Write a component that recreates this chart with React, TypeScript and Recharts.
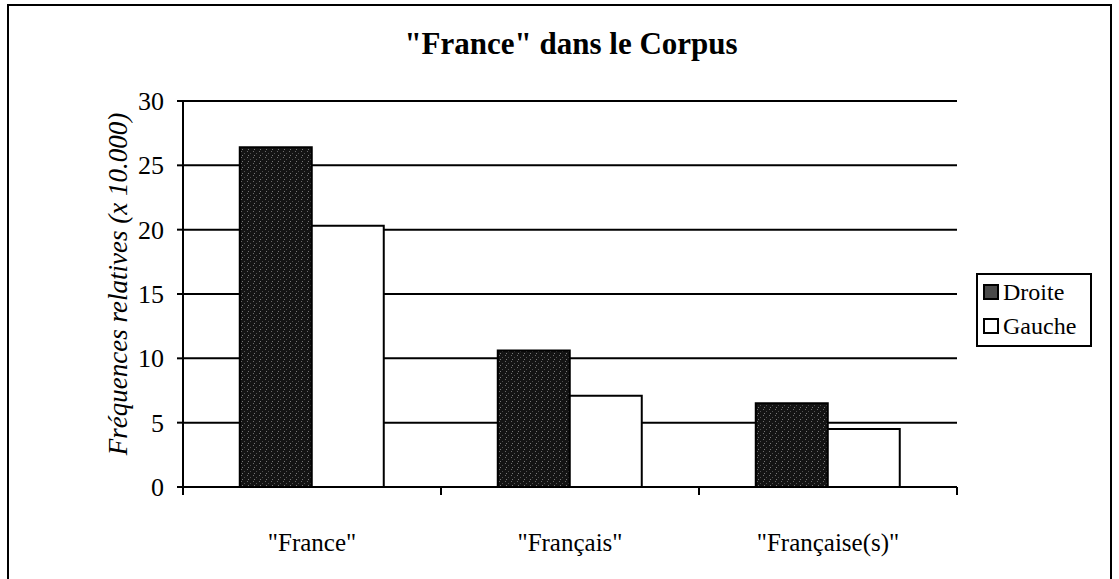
import React from 'react';
import { BarChart, Bar, XAxis, YAxis, CartesianGrid, Legend } from 'recharts';

const categories = ['"France"', '"Français"', '"Française(s)"'];
const droiteValues = [26.4, 10.6, 6.5];
const gaucheValues = [20.3, 7.1, 4.5];
const yTicks = [0, 5, 10, 15, 20, 25, 30];
const seriesNames = ['Droite', 'Gauche'];
const titleText = '"France" dans le Corpus';
const yLabelText = 'Fréquences relatives (x 10.000)';

const data = categories.map((c, i) => ({
  cat: c,
  [seriesNames[0]]: droiteValues[i],
  [seriesNames[1]]: gaucheValues[i],
}));

const FONT = `'Liberation Serif', monospace`;

const swatch: Record<string, string> = { Droite: '#4a4a4a', Gauche: '#ffffff' };

const CatTick = (props: any) => {
  const { x, y, payload, index, visibleTicksCount } = props;
  const off = payload && typeof payload.offset === 'number' ? payload.offset : 0;
  const last = index === (visibleTicksCount ?? 3) - 1;
  return (
    <g>
      <line x1={x - off} x2={x - off} y1={y} y2={y + 8} stroke="#000" strokeWidth={2} />
      {last && <line x1={x + off} x2={x + off} y1={y} y2={y + 8} stroke="#000" strokeWidth={2} />}
      <text x={x} y={y + 64} textAnchor="middle" style={{ fontFamily: FONT, fontSize: 25 }} fill="#000">
        {payload.value}
      </text>
    </g>
  );
};

const YTick = (props: any) => {
  const { x, y, payload } = props;
  return (
    <text x={x} y={y} dy="0.35em" textAnchor="end" style={{ fontFamily: FONT, fontSize: 26 }} fill="#000">
      {payload.value}
    </text>
  );
};

const YLabel = (props: any) => {
  const vb = props.viewBox || {};
  const cy = (vb.y ?? 101) + (vb.height ?? 386) / 2 - 10;
  const cx = 127;
  return (
    <text
      x={cx}
      y={cy}
      transform={`rotate(-90, ${cx}, ${cy})`}
      textAnchor="middle"
      style={{ fontFamily: FONT, fontStyle: 'italic', fontSize: 27 }}
      fill="#000"
    >
      {yLabelText}
    </text>
  );
};

const LegendBox = (props: any) => {
  const payload = props.payload || [];
  return (
    <div
      style={{
        boxSizing: 'border-box',
        width: 116,
        height: 74,
        border: '2px solid #000',
        background: '#fff',
        paddingLeft: 5,
        fontFamily: FONT,
        fontSize: 24,
        color: '#000',
        overflow: 'hidden',
      }}
    >
      {payload.map((p: any) => (
        <div key={p.value} style={{ display: 'flex', alignItems: 'center', height: 34, whiteSpace: 'nowrap' }}>
          <span
            style={{
              display: 'inline-block',
              boxSizing: 'border-box',
              width: 16,
              height: 16,
              border: '2px solid #000',
              background: swatch[p.value] || '#fff',
              marginRight: 4,
              flexShrink: 0,
            }}
          />
          <span>{p.value}</span>
        </div>
      ))}
    </div>
  );
};

export default function App() {
  return (
    <div style={{ position: 'absolute', left: 0, top: 0, width: 1119, height: 579, overflow: 'hidden', background: '#fff', fontFamily: FONT }}>
      <div
        style={{
          position: 'absolute',
          left: 7,
          top: 4,
          width: 1105,
          height: 600,
          border: '2px solid #000',
          boxSizing: 'border-box',
        }}
      />
      <div
        style={{
          position: 'absolute',
          left: 0,
          top: 27,
          width: 1142,
          textAlign: 'center',
          fontFamily: FONT,
          fontWeight: 'bold',
          fontSize: 31,
          lineHeight: '34px',
          color: '#000',
        }}
      >
        {titleText}
      </div>
      <div style={{ position: 'absolute', left: 0, top: 0 }}>
        <BarChart
          width={1119}
          height={579}
          data={data}
          margin={{ top: 101, right: 162, left: 0, bottom: 12 }}
          barCategoryGap="22%"
          barGap={0}
        >
          <defs>
            <pattern id="grain" width="6" height="6" patternUnits="userSpaceOnUse">
              <rect width="6" height="6" fill="#141414" />
              <rect x="1" y="1" width="1" height="1" fill="#6a6a6a" />
              <rect x="4" y="3" width="1" height="1" fill="#505050" />
              <rect x="2" y="5" width="1" height="1" fill="#777" />
            </pattern>
          </defs>
          <CartesianGrid vertical={false} stroke="#000" strokeWidth={2} />
          <XAxis
            dataKey="cat"
            height={80}
            axisLine={{ stroke: '#000', strokeWidth: 2 }}
            tickLine={false}
            tickSize={0}
            tickMargin={0}
            interval={0}
            tick={<CatTick />}
          />
          <YAxis
            width={183}
            domain={[0, 30]}
            ticks={yTicks}
            interval={0}
            axisLine={{ stroke: '#000', strokeWidth: 2 }}
            tickLine={{ stroke: '#000', strokeWidth: 2 }}
            tickSize={6}
            tickMargin={13}
            tick={<YTick />}
            label={<YLabel />}
          />
          <Legend
            layout="vertical"
            align="center"
            verticalAlign="middle"
            content={<LegendBox />}
            wrapperStyle={{ left: 976, top: 273, width: 116, height: 74 }}
          />
          <Bar dataKey={seriesNames[0]} fill="url(#grain)" stroke="#000" strokeWidth={2} isAnimationActive={false} />
          <Bar dataKey={seriesNames[1]} fill="#ffffff" stroke="#000" strokeWidth={2} isAnimationActive={false} />
        </BarChart>
      </div>
    </div>
  );
}
